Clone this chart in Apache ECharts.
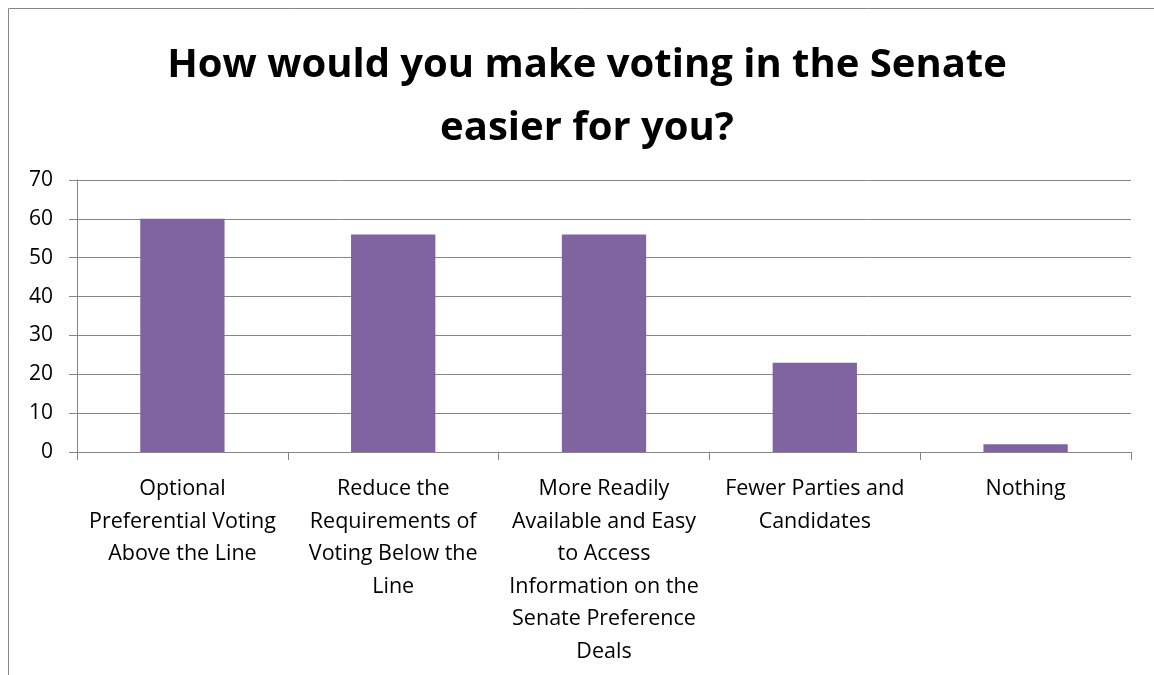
<!DOCTYPE html>
<html>
<head>
<meta charset="utf-8">
<script src="https://cdn.jsdelivr.net/npm/echarts@6/dist/echarts.min.js"></script>
<style>
  html, body { margin: 0; padding: 0; background: #fff; }
  #chart { width: 1154px; height: 675px; }
</style>
</head>
<body>
<div id="chart"></div>
<script>
// 数据
var categories = [
  'Optional\nPreferential Voting\nAbove the Line',
  'Reduce the\nRequirements of\nVoting Below the\nLine',
  'More Readily\nAvailable and Easy\nto Access\nInformation on the\nSenate Preference\nDeals',
  'Fewer Parties and\nCandidates',
  'Nothing'
];
var values = [60, 56, 56, 23, 2];
var yTicks = [0, 10, 20, 30, 40, 50, 60, 70];

var myChart = echarts.init(document.getElementById('chart'));

var option = {
  animation: false,
  backgroundColor: '#fff',
  //外框
  graphic: [{
    type: 'rect',
    shape: { x: 8.5, y: 8.5, width: 1200, height: 700 },
    style: { fill: 'none', stroke: '#868686', lineWidth: 1 }
  }],
  //大标题
  title: {
    text: 'How would you make voting in the Senate\neasier for you?',
    left: 582,
    top: 29,
    textAlign: 'center',
    textStyle: {
      fontFamily: 'Open Sans',
      fontWeight: 'bold',
      fontSize: 40,
      lineHeight: 63,
      color: '#000'
    }
  },
  grid: { left: 77, right: 23, top: 180, bottom: 223 },
  xAxis: {
    type: 'category',
    data: categories,
    axisLine: { lineStyle: { color: '#868686' } },
    axisTick: { show: true, length: 8, lineStyle: { color: '#868686' } },
    axisLabel: {
      interval: 0,
      margin: 21,
      fontFamily: 'Open Sans',
      fontSize: 21.5,
      lineHeight: 32.5,
      color: '#000',
      align: 'center'
    }
  },
  //y轴刻度
  yAxis: {
    type: 'value',
    min: yTicks[0],
    max: yTicks[yTicks.length - 1],
    interval: 10,
    axisLine: { show: true, lineStyle: { color: '#868686' } },
    axisTick: { show: true, length: 8, lineStyle: { color: '#868686' } },
    splitLine: { lineStyle: { color: '#868686' } },
    axisLabel: {
      margin: 24,
      fontFamily: 'Open Sans',
      fontSize: 21,
      color: '#000'
    }
  },
  series: [{
    type: 'bar',
    data: values,
    barWidth: '40%',
    itemStyle: { color: '#8064A2' }
  }]
};

myChart.setOption(option);
</script>
</body>
</html>
